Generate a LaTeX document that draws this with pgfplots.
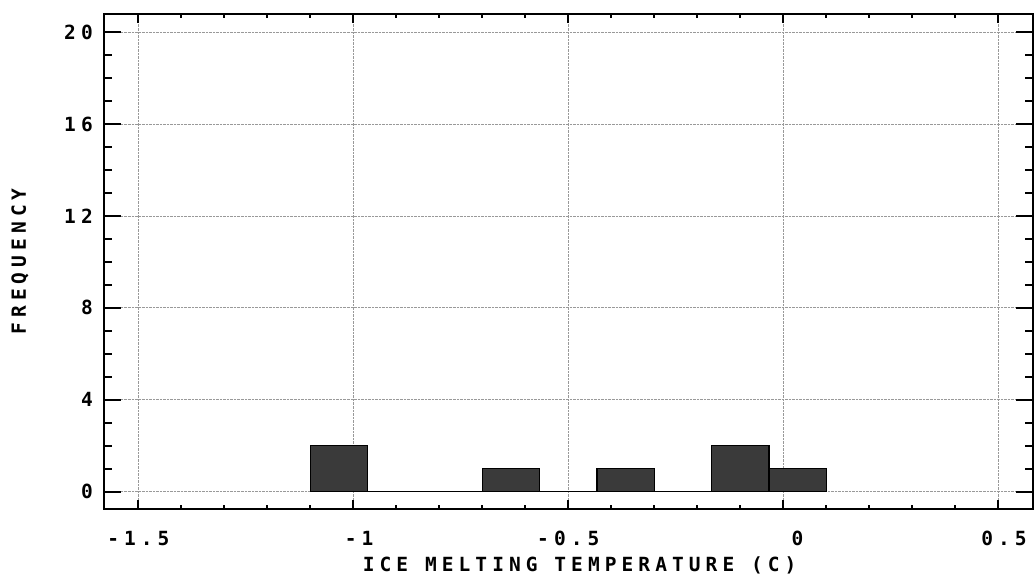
\documentclass[border=0pt]{standalone}
\usepackage{pgfplots}
\pgfplotsset{compat=1.18}
\usepackage{fontspec}
\setmainfont{DejaVu Sans Mono}[LetterSpace=26]
\definecolor{barfill}{HTML}{3A3A3A}
\newcommand{\lblfont}{\bfseries\fontsize{19.5bp}{22bp}\selectfont}
\begin{document}
\begin{tikzpicture}
\useasboundingbox (-104bp,-75.7bp) rectangle (930bp,509.3bp);
\begin{axis}[
 at={(0,0)}, anchor=south west,
 scale only axis, width=929bp, height=495.6bp,
 xmin=-1.58, xmax=0.581, ymin=-0.77, ymax=20.8,
 xtick={-1.5,-1,-0.5,0,0.5},
 xticklabels={-1.5,\phantom{0}-1,-0.5,\phantom{00}0,\phantom{0}0.5},
 minor x tick num=4,
 ytick={0,4,8,12,16,20}, yticklabels={0,4,8,12,16,20},
 minor y tick num=3,
 tick align=inside,
 xtick style={/pgfplots/major tick length=9bp,/pgfplots/minor tick length=4.5bp, line width=1.8bp, black},
 ytick style={/pgfplots/major tick length=17bp,/pgfplots/minor tick length=8.5bp, line width=1.8bp, black},
 axis line style={line width=2bp},
 grid=major,
 major grid style={densely dotted, line width=0.6bp, gray!80},
 xticklabel style={anchor=north, inner sep=0pt, yshift=-22bp, font=\lblfont},
 yticklabel style={anchor=east, inner sep=0pt, xshift=-11bp, font=\lblfont},
 xlabel={ICE MELTING TEMPERATURE (C)},
 xlabel style={at={(axis description cs:0.512,-0.1265)}, anchor=base, inner sep=0pt, font=\lblfont},
 ylabel={FREQUENCY},
 ylabel style={at={(axis description cs:-0.0904,0.5)}, anchor=center, inner sep=0pt, font=\lblfont},
]
\addplot[ybar interval, fill=barfill, draw=black, line width=1.4bp] coordinates {
 (-1.1,2) (-0.96667,0) (-0.83333,0) (-0.7,1) (-0.56667,0) (-0.43333,1) (-0.3,0) (-0.16667,2) (-0.03333,1) (0.1,1)
};
\end{axis}
\end{tikzpicture}
\end{document}
